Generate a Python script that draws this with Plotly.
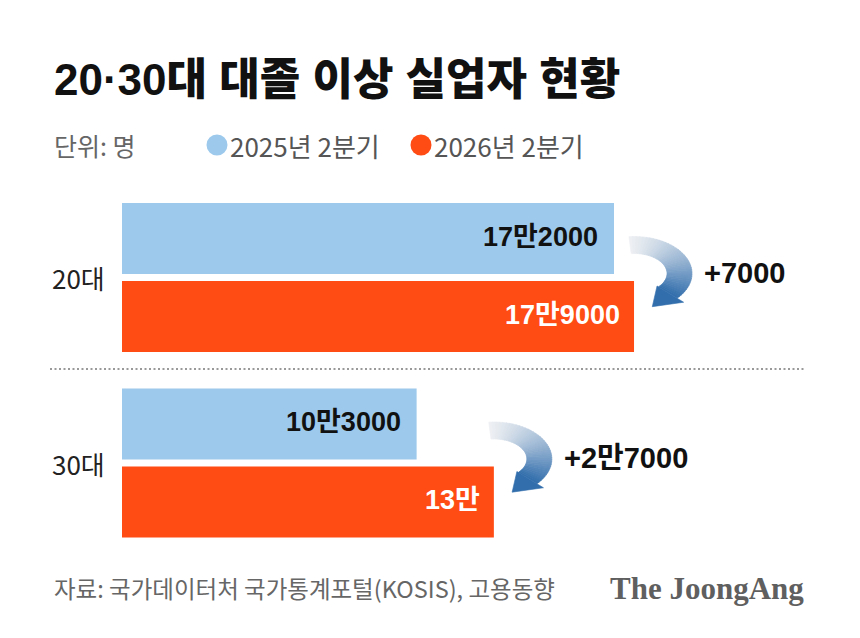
import math
import plotly.graph_objects as go

W, H = 860, 638

# ---- data ----
categories = ["20대", "30대"]
series_names = ["2025년 2분기", "2026년 2분기"]
values_2025 = [172000, 103000]
values_2026 = [179000, 130000]

title_text = "20·30대 대졸 이상 실업자 현황"
unit_text = "단위: 명"
source_text = "자료: 국가데이터처 국가통계포털(KOSIS), 고용동향"
brand_text = "The JoongAng"

# ---- style ----
COL_2025 = "#9DCAEC"
COL_2026 = "#FF4B14"
FONT = "Noto Sans CJK KR"
FONT_MIX = "Liberation Sans, Noto Sans CJK KR"
X_DOM = (122 / W, 1.0)
X_RANGE = (0, 258000)
Y_TOP_PX, Y_BOT_PX = 184.75, 555.75


def fmt(v):
    man, rest = divmod(int(v), 10000)
    s = ""
    if man:
        s += f"{man}만"
    if rest:
        s += f"{rest}"
    return s


def px_x(v):
    return X_DOM[0] * W + (v - X_RANGE[0]) / (X_RANGE[1] - X_RANGE[0]) * (X_DOM[1] - X_DOM[0]) * W


def cat_center_px(i):
    band = (Y_BOT_PX - Y_TOP_PX) / len(categories)
    return Y_TOP_PX + band * (i + 0.5)


def P(x, y):
    return x / W, 1 - y / H


fig = go.Figure()
fig.add_trace(go.Bar(y=categories, x=values_2025, orientation="h", name=series_names[0],
                     marker=dict(color=COL_2025, line=dict(width=0)), hoverinfo="skip"))
fig.add_trace(go.Bar(y=categories, x=values_2026, orientation="h", name=series_names[1],
                     marker=dict(color=COL_2026, line=dict(width=0)), hoverinfo="skip"))

annotations = []
shapes = []

# title, unit, legend
x, y = P(52, 80)
annotations.append(dict(x=x, y=y, xref="paper", yref="paper", xanchor="left", yanchor="middle",
                        text=title_text, showarrow=False,
                        font=dict(family=FONT_MIX, size=44, color="#111111", weight=900)))
x, y = P(52, 145)
annotations.append(dict(x=x, y=y, xref="paper", yref="paper", xanchor="left", yanchor="middle",
                        text=unit_text, showarrow=False,
                        font=dict(family=FONT, size=25, color="#666666")))
for cx_px, name, col in [(217, series_names[0], COL_2025), (421, series_names[1], COL_2026)]:
    x0, y0 = P(cx_px - 10.5, 145 - 10.5)
    x1, y1 = P(cx_px + 10.5, 145 + 10.5)
    shapes.append(dict(type="circle", xref="paper", yref="paper", x0=x0, x1=x1, y0=y1, y1=y0,
                       fillcolor=col, line=dict(width=0)))
    x, y = P(cx_px + 11, 145)
    annotations.append(dict(x=x, y=y, xref="paper", yref="paper", xanchor="left", yanchor="middle",
                            text=name, showarrow=False,
                            font=dict(family=FONT, size=26, color="#555555")))

# category labels
for i, c in enumerate(categories):
    x, y = P(107, cat_center_px(i))
    annotations.append(dict(x=x, y=y, xref="paper", yref="paper", xanchor="right", yanchor="middle",
                            text=c, showarrow=False,
                            font=dict(family=FONT, size=26, color="#222222")))

# bar value labels
for i, c in enumerate(categories):
    annotations.append(dict(x=values_2025[i], y=c, xref="x", yref="y", xanchor="right", yanchor="middle",
                            xshift=-14, yshift=41, text=fmt(values_2025[i]), showarrow=False,
                            font=dict(family=FONT_MIX, size=27, color="#111111", weight=700)))
    annotations.append(dict(x=values_2026[i], y=c, xref="x", yref="y", xanchor="right", yanchor="middle",
                            xshift=-12, yshift=-37, text=fmt(values_2026[i]), showarrow=False,
                            font=dict(family=FONT_MIX, size=27, color="#FFFFFF", weight=700)))


# curved gradient arrows
def arrow_shapes(tx, ty, n=40):
    cx, cy = tx + 5, ty + 37
    rxo, ryo, rxi, ryi = 58, 37, 33, 20
    a0, a1 = -95.0, 42.0
    c0 = (238, 240, 243)
    c1 = (50, 110, 172)
    out = []

    def pt(rx, ry, a):
        r = math.radians(a)
        return cx + rx * math.cos(r), cy + ry * math.sin(r)

    def col_at(t):
        t = t ** 1.2
        return "rgb(%d,%d,%d)" % tuple(round(c0[j] + (c1[j] - c0[j]) * t) for j in range(3))

    def path(pts):
        s = "M " + " L ".join("%.5f,%.5f" % P(px_, py_) for px_, py_ in pts) + " Z"
        return s

    for k in range(n):
        aa = a0 + (a1 - a0) * k / n
        ab = a0 + (a1 - a0) * (k + 1) / n + (0.4 if k < n - 1 else 0)
        pts = [pt(rxo, ryo, aa), pt(rxo, ryo, ab), pt(rxi, ryi, ab), pt(rxi, ryi, aa)]
        col = col_at((k + 0.5) / n)
        out.append(dict(type="path", path=path(pts), xref="paper", yref="paper",
                        fillcolor=col, line=dict(color=col, width=0.6), layer="above"))
    pi = pt(rxi, ryi, a1)
    po = pt(rxo, ryo, a1)
    bl = (pi[0] - 0.08 * (po[0] - pi[0]), pi[1] - 0.08 * (po[1] - pi[1]))
    br = (po[0] + 0.35 * (po[0] - pi[0]), po[1] + 0.35 * (po[1] - pi[1]))
    mid = ((bl[0] + br[0]) / 2, (bl[1] + br[1]) / 2)
    r = math.radians(a1)
    d = (-45.5 * math.sin(r), 28.5 * math.cos(r))
    L = math.hypot(*d)
    d = (d[0] / L, d[1] / L)
    tip = (mid[0] + 22 * d[0], mid[1] + 22 * d[1])
    col = col_at(1.0)
    out.append(dict(type="path", path=path([bl, tip, br]), xref="paper", yref="paper",
                    fillcolor=col, line=dict(color=col, width=0.6), layer="above"))
    return out


band = (Y_BOT_PX - Y_TOP_PX) / len(categories)
for i, c in enumerate(categories):
    tx = px_x(values_2026[i]) - 5
    blue_center = cat_center_px(i) - band * (1 - 0.159) / 4
    ty = blue_center - 2
    shapes.extend(arrow_shapes(tx, ty))
    diff = values_2026[i] - values_2025[i]
    x, y = P(tx + 73, cat_center_px(i) - 5)
    annotations.append(dict(x=x, y=y, xref="paper", yref="paper", xanchor="left", yanchor="middle",
                            text="+" + fmt(diff), showarrow=False,
                            font=dict(family=FONT_MIX, size=29, color="#111111", weight=700)))

# dotted separator
x0, y0 = P(50, 369)
x1, _ = P(805, 369)
shapes.append(dict(type="line", xref="paper", yref="paper", x0=x0, x1=x1, y0=y0, y1=y0,
                   line=dict(color="#999999", width=2, dash="2px,2.5px")))

# footer
x, y = P(52, 588)
annotations.append(dict(x=x, y=y, xref="paper", yref="paper", xanchor="left", yanchor="middle",
                        text=source_text, showarrow=False,
                        font=dict(family=FONT, size=23.5, color="#666666")))
x, y = P(806, 588)
annotations.append(dict(x=x, y=y, xref="paper", yref="paper", xanchor="right", yanchor="middle",
                        text=brand_text, showarrow=False,
                        font=dict(family="Liberation Serif", size=31, color="#5f5f5f", weight=700)))

fig.update_layout(
    width=W, height=H,
    margin=dict(l=0, r=0, t=0, b=0),
    paper_bgcolor="white", plot_bgcolor="white",
    barmode="group", bargap=0.159, bargroupgap=0.0897,
    showlegend=False,
    xaxis=dict(domain=list(X_DOM), range=list(X_RANGE), visible=False, fixedrange=True),
    yaxis=dict(domain=[1 - Y_BOT_PX / H, 1 - Y_TOP_PX / H], type="category",
               categoryorder="array", categoryarray=categories,
               range=[len(categories) - 0.5, -0.5], visible=False, fixedrange=True),
    annotations=annotations,
    shapes=shapes,
)

fig.write_html("out.html")
